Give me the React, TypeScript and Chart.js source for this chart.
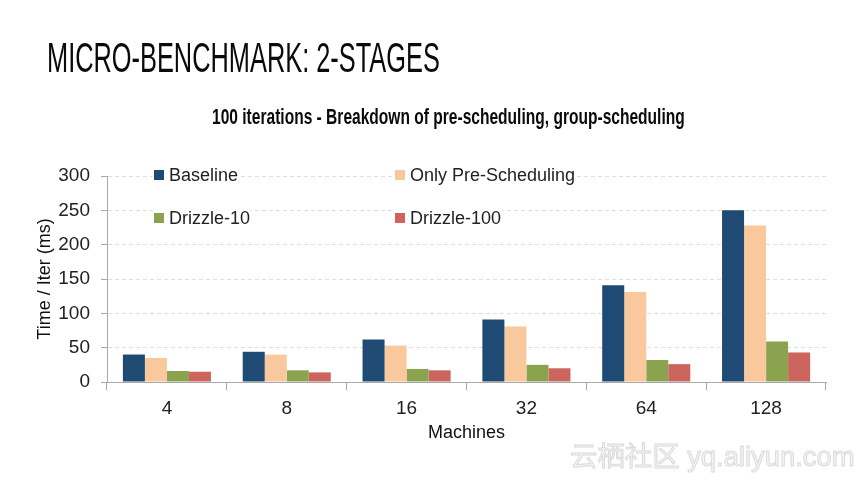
import React, { useEffect, useLayoutEffect, useRef, useState } from 'react';
import { Chart, registerables } from 'chart.js';

Chart.register(...registerables);

// ---- data ----
const categories = ['4', '8', '16', '32', '64', '128'];
const seriesLabels = ['Baseline', 'Only Pre-Scheduling', 'Drizzle-10', 'Drizzle-100'];
const baseline = [40, 44, 62, 91, 141, 250];
const onlyPreScheduling = [35, 40, 53, 81, 131, 228];
const drizzle10 = [16, 17, 19, 25, 32, 59];
const drizzle100 = [15, 14, 17, 20, 26, 43];
const yMin = 0;
const yMax = 300;
const yStep = 50;

const titleText = 'MICRO-BENCHMARK: 2-STAGES';
const subtitleText = '100 iterations - Breakdown of pre-scheduling, group-scheduling';
const yTitle = 'Time / Iter (ms)';
const xTitle = 'Machines';
const watermark = '云栖社区 yq.aliyun.com';

const colors = ['#1F4A73', '#F9C89C', '#8BA24E', '#CC655E'];

const legendPlugin = {
  id: 'insideLegend',
  afterDatasetsDraw(chart: any) {
    const { ctx, chartArea } = chart;
    const colX = [chartArea.left + 47, chartArea.left + 288];
    const rowY = [chartArea.top - 1, chartArea.top + 42];
    ctx.save();
    ctx.font = '18px "Liberation Sans", Arial, sans-serif';
    ctx.textBaseline = 'middle';
    chart.data.datasets.forEach((ds: any, i: number) => {
      const x = colX[i % 2];
      const y = rowY[Math.floor(i / 2)];
      const w = ctx.measureText(ds.label).width;
      ctx.fillStyle = '#ffffff';
      ctx.fillRect(x - 1, y - 9, w + 17, 18);
      ctx.fillStyle = ds.backgroundColor;
      ctx.fillRect(x, y - 5, 10, 10);
      ctx.fillStyle = '#222222';
      ctx.fillText(ds.label, x + 15, y + 1);
    });
    ctx.restore();
  },
};

function FitText(props: { text: string; width: number; style: React.CSSProperties }) {
  const ref = useRef<HTMLSpanElement | null>(null);
  const [scale, setScale] = useState(1);
  useLayoutEffect(() => {
    if (ref.current) {
      const w = ref.current.offsetWidth;
      if (w > 0) setScale(props.width / w);
    }
  }, [props.text, props.width]);
  return (
    <span
      ref={ref}
      style={{
        position: 'absolute',
        whiteSpace: 'nowrap',
        display: 'inline-block',
        transformOrigin: 'left top',
        transform: `scaleX(${scale})`,
        lineHeight: 1,
        ...props.style,
      }}
    >
      {props.text}
    </span>
  );
}

export default function App() {
  const canvasRef = useRef<HTMLCanvasElement | null>(null);

  useEffect(() => {
    const canvas = canvasRef.current;
    if (!canvas) return;
    const data = [baseline, onlyPreScheduling, drizzle10, drizzle100];
    const chart = new Chart(canvas, {
      type: 'bar',
      data: {
        labels: categories,
        datasets: seriesLabels.map((label, i) => ({
          label,
          data: data[i],
          backgroundColor: colors[i],
          borderWidth: 0,
          barPercentage: 1,
          categoryPercentage: 0.735,
        })),
      },
      options: {
        responsive: false,
        animation: false,
        devicePixelRatio: 1,
        layout: { padding: { left: 0, top: 176, right: 40, bottom: 37 } },
        plugins: {
          legend: { display: false },
          title: { display: false },
          tooltip: { enabled: false },
        },
        scales: {
          x: {
            grid: {
              drawOnChartArea: false,
              drawTicks: true,
              tickLength: 8,
              color: '#a8a8a8',
              offset: true,
            },
            border: { color: '#a8a8a8', width: 1 },
            ticks: {
              color: '#222222',
              padding: 7,
              font: { family: '"Liberation Sans", Arial, sans-serif', size: 19 },
            },
            title: {
              display: true,
              text: xTitle,
              color: '#111111',
              padding: { top: 0, bottom: 2 },
              font: { family: '"Liberation Sans", Arial, sans-serif', size: 18 },
            },
            afterFit: (scale: any) => {
              scale.height = 64;
            },
          },
          y: {
            min: yMin,
            max: yMax,
            ticks: {
              stepSize: yStep,
              color: '#222222',
              padding: 11,
              font: { family: '"Liberation Sans", Arial, sans-serif', size: 19 },
            },
            grid: {
              color: '#dedede',
              tickColor: '#a8a8a8',
              tickLength: 6,
              tickBorderDash: [],
            },
            border: { color: '#a8a8a8', width: 1, dash: [4, 3] },
            title: {
              display: true,
              text: yTitle,
              color: '#111111',
              padding: { top: 34, bottom: 0 },
              font: { family: '"Liberation Sans", Arial, sans-serif', size: 18 },
            },
            afterFit: (scale: any) => {
              scale.width = 107;
            },
          },
        },
      },
      plugins: [legendPlugin],
    });
    return () => chart.destroy();
  }, []);

  return (
    <div
      style={{
        position: 'absolute',
        left: 0,
        top: 0,
        width: 866,
        height: 483,
        background: '#ffffff',
        overflow: 'hidden',
      }}
    >
      <canvas
        ref={canvasRef}
        width={866}
        height={483}
        style={{ position: 'absolute', left: 0, top: 0, width: 866, height: 483 }}
      />
      <FitText
        text={titleText}
        width={393}
        style={{
          left: 47,
          top: 36,
          fontFamily: '"Liberation Sans Narrow", "Liberation Sans", sans-serif',
          fontSize: 43,
          color: '#0a0a0a',
        }}
      />
      <FitText
        text={subtitleText}
        width={473}
        style={{
          left: 212,
          top: 106,
          fontFamily: '"Liberation Sans Narrow", "Liberation Sans", sans-serif',
          fontSize: 22,
          fontWeight: 'bold',
          color: '#0a0a0a',
        }}
      />
      <FitText
        text={watermark}
        width={285}
        style={{
          left: 570,
          top: 444,
          fontFamily: '"Liberation Sans", "Noto Sans CJK SC", sans-serif',
          fontSize: 27,
          color: '#f6f6f6',
          WebkitTextStroke: '1px #dadada',
        }}
      />
    </div>
  );
}
